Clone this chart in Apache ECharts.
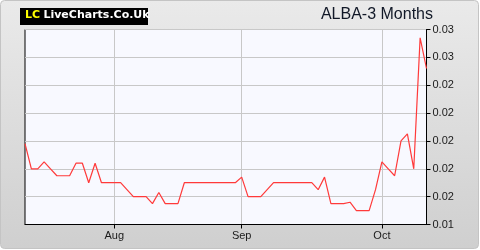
<!DOCTYPE html>
<html>
<head>
<meta charset="utf-8">
<script src="https://cdn.jsdelivr.net/npm/echarts@6/dist/echarts.min.js"></script>
<style>
html,body{margin:0;padding:0;background:#ffffff;}
#chart{width:480px;height:250px;}
</style>
</head>
<body>
<div id="chart"></div>
<script>
// Trading-day closing prices (one per trading day, ~3 months)
var prices = [
  0.0198, 0.0180, 0.0180, 0.0185, 0.0180, 0.0175, 0.0175, 0.0175, 0.0184, 0.0184,
  0.0170, 0.0184, 0.0170, 0.0170, 0.0170, 0.0170, 0.0165, 0.0160, 0.0160, 0.0160,
  0.0155, 0.0163, 0.0155, 0.0155, 0.0155, 0.0170, 0.0170, 0.0170, 0.0170, 0.0170,
  0.0170, 0.0170, 0.0170, 0.0170, 0.0174, 0.0160, 0.0160, 0.0160, 0.0165, 0.0170,
  0.0170, 0.0170, 0.0170, 0.0170, 0.0170, 0.0170, 0.0165, 0.0174, 0.0155, 0.0155,
  0.0155, 0.0156, 0.0150, 0.0150, 0.0150, 0.0165, 0.0185, 0.0180, 0.0175, 0.0200,
  0.0205, 0.0180, 0.0274, 0.0252
];
// Category index of each trading day
var days = prices.map(function (_, i) { return String(i); });
// Month-start trading-day indices and their labels
var monthIndex = [14, 34, 56];
var monthLabels = ['Aug', 'Sep', 'Oct'];
// Y axis scale
var yMin = 0.014, yMax = 0.028, yStep = 0.002;
var titleText = 'ALBA-3 Months';

var chart = echarts.init(document.getElementById('chart'), null, {renderer: 'canvas'});
function isMonth(i) { return monthIndex.indexOf(i) >= 0; }

chart.setOption({
  animation: false,
  backgroundColor: 'transparent',
  graphic: [
    {
      type: 'rect', z: -10, silent: true,
      shape: {x: 0.5, y: 0.5, width: 478, height: 248, r: 4},
      style: {
        fill: new echarts.graphic.LinearGradient(0, 0, 0, 1, [
          {offset: 0, color: '#eaeaea'},
          {offset: 1, color: '#cfcfcf'}
        ]),
        stroke: '#c4c4c4', lineWidth: 1
      }
    },
    {
      type: 'rect', silent: true,
      shape: {x: 20, y: 8, width: 128, height: 17},
      style: {fill: '#000000'}
    },
    {
      type: 'text', silent: true,
      left: 25, top: 9,
      style: {
        text: '{a|LC} {b|LiveCharts.Co.Uk}',
        rich: {
          a: {fill: '#ffff00', fontFamily: 'DejaVu Sans', fontWeight: 'bold', fontSize: 11, lineHeight: 15},
          b: {fill: '#ffffff', fontFamily: 'DejaVu Sans', fontWeight: 'bold', fontSize: 11, lineHeight: 15}
        }
      }
    },
    {
      type: 'text', silent: true,
      right: 47, top: 7,
      style: {
        text: titleText, fill: '#111827',
        fontFamily: 'Liberation Sans', fontSize: 16
      }
    }
  ],
  grid: {
    left: 25, right: 53.5, top: 29.5, bottom: 25.5,
    show: true, backgroundColor: '#f8f9ff',
    borderColor: '#000000', borderWidth: 1
  },
  xAxis: {
    type: 'category',
    data: days,
    boundaryGap: false,
    axisLine: {show: true, lineStyle: {color: '#000', width: 1}},
    axisTick: {
      show: true, length: 4, inside: false,
      interval: function (i) { return isMonth(i); },
      lineStyle: {color: '#000'}
    },
    axisLabel: {
      interval: function (i) { return isMonth(i); },
      formatter: function (v, i) {
        var k = monthIndex.indexOf(i);
        return k >= 0 ? monthLabels[k] : '';
      },
      color: '#1a1a1a', fontFamily: 'Liberation Sans', fontSize: 11, margin: 6
    },
    splitLine: {
      show: true,
      interval: function (i) { return isMonth(i); },
      lineStyle: {color: '#c8c8c8', width: 1}
    }
  },
  yAxis: {
    type: 'value',
    position: 'right',
    min: yMin, max: yMax, interval: yStep,
    axisLine: {show: true, lineStyle: {color: '#000', width: 1}},
    axisTick: {show: true, length: 4, lineStyle: {color: '#000'}},
    axisLabel: {
      formatter: function (v) { return v.toFixed(2); },
      color: '#1a1a1a', fontFamily: 'Liberation Sans', fontSize: 11, margin: 6
    },
    splitLine: {show: true, lineStyle: {color: '#c8c8c8', width: 1}}
  },
  series: [{
    type: 'line',
    data: prices,
    showSymbol: false,
    symbol: 'none',
    lineStyle: {color: '#ff3a3a', width: 1.2},
    z: 5
  }]
});
</script>
</body>
</html>
